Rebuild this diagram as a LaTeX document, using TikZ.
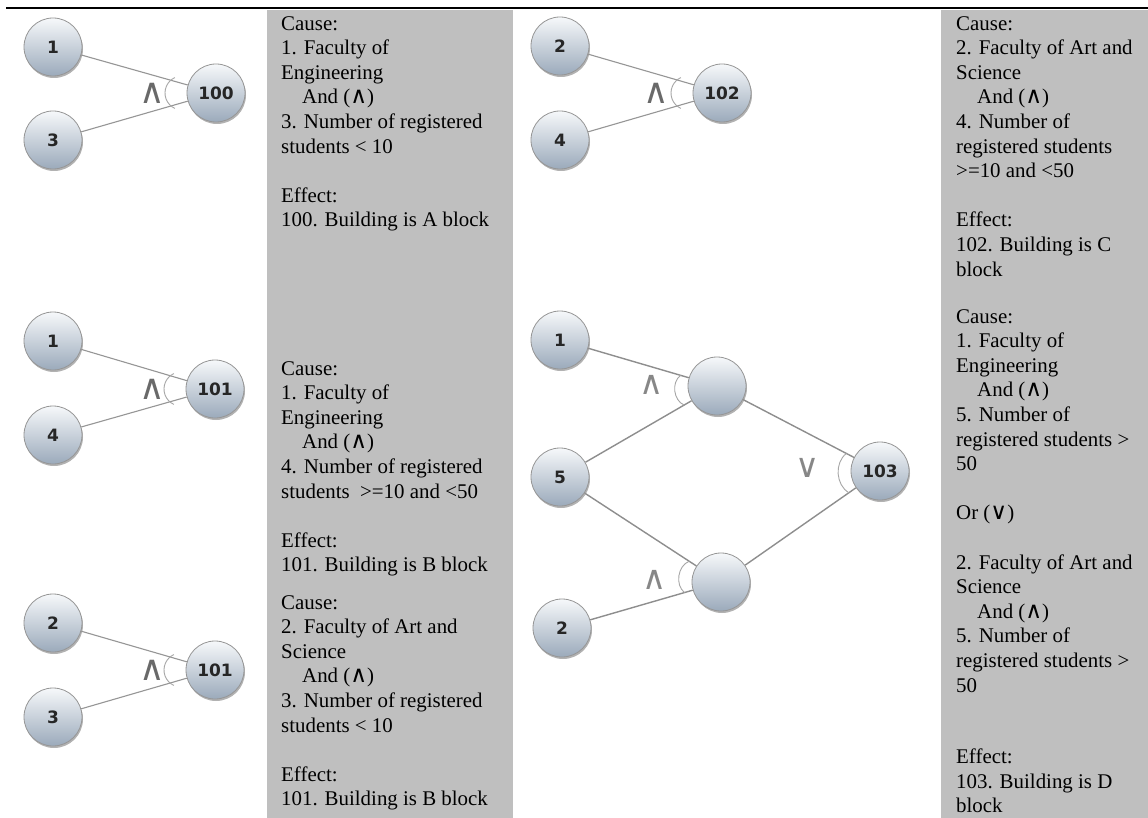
\documentclass[tikz,border=0pt]{standalone}
\usepackage{fontspec}
\setmainfont{Liberation Serif}
\newfontfamily\symf[Scale=1.1]{DejaVu Sans}
\newfontfamily\numf{DejaVu Sans}
\usetikzlibrary{calc,shadows}
\definecolor{cellgray}{RGB}{191,191,191}
\definecolor{edgegray}{RGB}{150,150,150}
\definecolor{balltop}{RGB}{246,248,250}
\definecolor{ballbot}{RGB}{155,170,187}
\definecolor{gategray}{RGB}{105,105,105}
% "(" mark of a gate, left of node #1
\newcommand\gatecurve[1]{\draw[gatearc] (#1.center) ++(-34,0) ++(115:17) arc[start angle=115, end angle=245, radius=17];}
% "(" mark of a gate between the wires from #2 and #3 into #1
\newcommand\gatebend[4]{\draw[gatearc] ($(#1)!38pt!(#2)$) to[bend right=#4] ($(#1)!38pt!(#3)$);}
\tikzset{
 ball/.style={circle, minimum size=58pt, inner sep=0pt, draw=edgegray, line width=0.8pt,
   top color=balltop, bottom color=ballbot,
   drop shadow={shadow xshift=1pt, shadow yshift=-2pt, opacity=0.3, fill=black},
   font=\numf\bfseries\fontsize{17}{17}\selectfont, text=black!85},
 wire/.style={draw=edgegray, line width=1.1pt},
 wirethick/.style={draw=edgegray!95!black, line width=1.4pt},
 gatearc/.style={draw=edgegray!85, line width=0.9pt},
 gatelabel/.style={font=\numf\fontsize{35}{35}\selectfont, text=gategray, inner sep=0pt},
 gatelabelthin/.style={font=\numf\fontsize{33}{33}\selectfont, text=gategray!80, inner sep=0pt},
 celltext/.style={anchor=north west, inner sep=0pt, align=left, font=\fontsize{20.9}{24.6}\selectfont},
 cellbg/.style={fill=cellgray, draw=none},
}
\begin{document}
\begin{tikzpicture}[x=1pt,y=-1pt]
\useasboundingbox (0,0) rectangle (1148,818);
\fill[white] (0,0) rectangle (1148,818);
% gray columns
\path[cellbg] (267,10) rectangle (513,818);
\path[cellbg] (941,10) rectangle (1148,818);

% ---------- group A ----------
\node[ball] (a1) at (53,47) {1};
\node[ball] (a3) at (53,140) {3};
\node[ball] (a100) at (216,93) {100};
\draw[wire] (a1) -- (a100);
\draw[wire] (a3) -- (a100);
\gatecurve{a100}
\node[gatelabel] (ga) at (152,93) {∧};

% ---------- group B ----------
\node[ball] (b2) at (560,46) {2};
\node[ball] (b4) at (560,140) {4};
\node[ball] (b102) at (722,93) {102};
\draw[wire] (b2) -- (b102);
\draw[wire] (b4) -- (b102);
\gatecurve{b102}
\node[gatelabel] (gb) at (656,93) {∧};

% ---------- group C ----------
\node[ball] (c1) at (53,341) {1};
\node[ball] (c4) at (53,435) {4};
\node[ball] (c101) at (215,389) {101};
\draw[wire] (c1) -- (c101);
\draw[wire] (c4) -- (c101);
\gatecurve{c101}
\node[gatelabel] (gc) at (152,389) {∧};

% ---------- group D ----------
\node[ball] (d2) at (53,623) {2};
\node[ball] (d3) at (53,717) {3};
\node[ball] (d101) at (215,670) {101};
\draw[wire] (d2) -- (d101);
\draw[wire] (d3) -- (d101);
\gatecurve{d101}
\node[gatelabel] (gd) at (152,670) {∧};

% ---------- group E ----------
\node[ball] (e1) at (560,340) {1};
\node[ball] (e5) at (560,477) {5};
\node[ball] (e2) at (562,628) {2};
\node[ball] (eu) at (717,386) {};
\node[ball] (el) at (721,582) {};
\node[ball] (e103) at (880,471) {103};
\draw[wirethick] (e1) -- (eu);
\draw[wirethick] (e5) -- (eu);
\draw[wirethick] (e5) -- (el);
\draw[wirethick] (e2) -- (el);
\draw[wirethick] (eu) -- (e103);
\draw[wirethick] (el) -- (e103);
\gatebend{eu}{e1}{e5}{60}
\gatebend{el}{e5}{e2}{60}
\gatebend{e103}{eu}{el}{55}
\node[gatelabelthin] (geu) at (652,385) {∧};
\node[gatelabelthin] (gel) at (655,580) {∧};
\node[gatelabelthin] (ge103) at (808,468) {∨};

% ---------- texts ----------
\node[celltext] (t1) at (281,16) {Cause:\\
1. Faculty of\\
Engineering\\
\hspace*{21pt}And ({\symf ∧})\\
3. Number of registered\\
students < 10\\[24.6pt]
Effect:\\
100. Building is A block};

\node[celltext] (t2) at (281,361) {Cause:\\
1. Faculty of\\
Engineering\\
\hspace*{21pt}And ({\symf ∧})\\
4. Number of registered\\
students \ >=10 and <50\\[24.6pt]
Effect:\\
101. Building is B block};

\node[celltext] (t3) at (281,595) {Cause:\\
2. Faculty of Art and\\
Science\\
\hspace*{21pt}And ({\symf ∧})\\
3. Number of registered\\
students < 10\\[24.6pt]
Effect:\\
101. Building is B block};

\node[celltext] (t4) at (956,16) {Cause:\\
2. Faculty of Art and\\
Science\\
\hspace*{21pt}And ({\symf ∧})\\
4. Number of\\
registered students\\
>=10 and <50\\[24.6pt]
Effect:\\
102. Building is C\\
block};

\node[celltext] (t5) at (956,309) {Cause:\\
1. Faculty of\\
Engineering\\
\hspace*{21pt}And ({\symf ∧})\\
5. Number of\\
registered students >\\
50\\[24.6pt]
Or ({\symf ∨})\\[24.6pt]
2. Faculty of Art and\\
Science\\
\hspace*{21pt}And ({\symf ∧})\\
5. Number of\\
registered students >\\
50\\[47pt]
Effect:\\
103. Building is D\\
block};

% top rule
\draw[line width=2.7pt, black] (6,8) -- (1148,8);
\end{tikzpicture}
\end{document}
